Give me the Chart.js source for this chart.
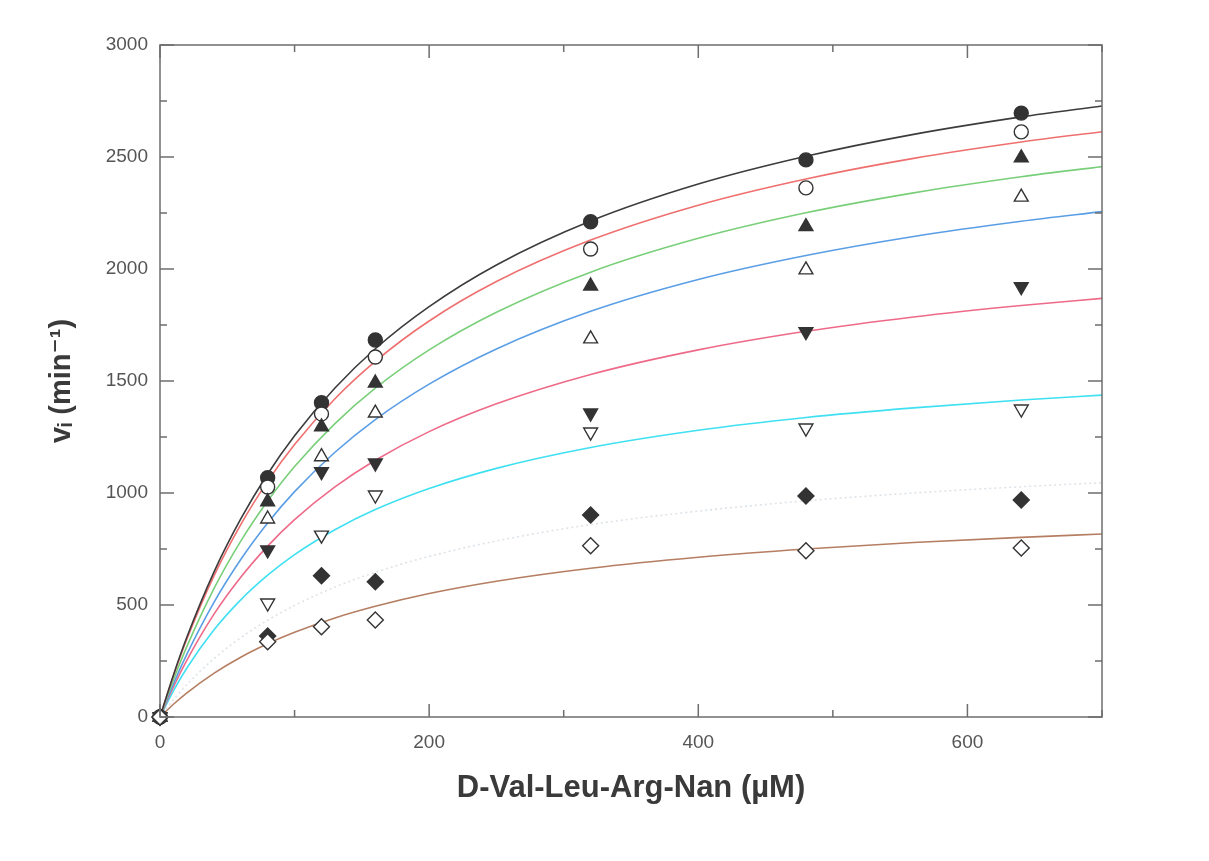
<!DOCTYPE html>
<html>
<head>
<meta charset="utf-8">
<script src="https://cdn.jsdelivr.net/npm/chart.js@4.4.0/dist/chart.umd.min.js"></script>
<style>
  html, body { margin: 0; padding: 0; background: #fff; }
  #wrap { width: 1209px; height: 861px; }
</style>
</head>
<body>
<div id="wrap"><canvas id="myChart" width="1209" height="861"></canvas></div>
<script>
// substrate concentrations (uM)
const substrate = [0, 80, 120, 160, 320, 480, 640];

// measured initial rates, one list per inhibitor level
const filledCircle   = [0, 1068, 1403, 1683, 2211, 2487, 2696];
const openCircle     = [0, 1027, 1353, 1607, 2089, 2362, 2612];
const filledUp       = [0, 961, 1295, 1491, 1924, 2189, 2496];
const openUp         = [0, 884, 1162, 1357, 1688, 1996, 2321];
const filledDown     = [0, 746, 1095, 1134, 1357, 1720, 1921];
const openDown       = [0, 509, 812, 991, 1272, 1290, 1375];
const filledDiamond  = [0, 362, 631, 604, 902, 987, 969];
const openDiamond    = [0, 336, 403, 433, 765, 742, 754];

// fitted curves
const curveX      = [0, 10, 20, 40, 60, 80, 100, 130, 160, 200, 250, 320, 400, 480, 560, 640, 700];
const curveBlack  = [0, 188, 357, 646, 884, 1085, 1256, 1469, 1644, 1832, 2018, 2214, 2379, 2503, 2601, 2679, 2728];
const curveRed    = [0, 184, 348, 629, 859, 1052, 1216, 1421, 1588, 1768, 1944, 2129, 2285, 2402, 2494, 2567, 2613];
const curveGreen  = [0, 166, 315, 572, 785, 964, 1118, 1310, 1468, 1639, 1807, 1986, 2137, 2251, 2340, 2412, 2457];
const curveBlue   = [0, 148, 281, 511, 703, 866, 1006, 1182, 1328, 1486, 1643, 1811, 1953, 2060, 2145, 2213, 2256];
const curvePink   = [0, 134, 254, 458, 624, 763, 881, 1027, 1146, 1274, 1398, 1529, 1639, 1722, 1786, 1837, 1869];
const curveCyan   = [0, 117, 219, 388, 523, 633, 725, 836, 926, 1020, 1110, 1203, 1280, 1337, 1380, 1415, 1437];
const curveFaint  = [0, 77, 145, 260, 354, 432, 498, 580, 646, 717, 786, 859, 919, 965, 1000, 1028, 1046];
const curveBrown  = [0, 57, 108, 195, 267, 327, 378, 442, 494, 551, 606, 664, 713, 750, 779, 802, 817];

const xTicks = [0, 200, 400, 600];
const yTicks = [0, 500, 1000, 1500, 2000, 2500, 3000];

const axisColor = '#6e6e6e';
const markColor = '#333333';

const toPts = (xs, ys) => xs.map((x, i) => ({ x: x, y: ys[i] }));

const curve = (ys, color, dash) => ({
    data: toPts(curveX, ys),
    showLine: true,
    borderColor: color,
    borderWidth: 1.6,
    borderDash: dash || [],
    pointRadius: 0,
    cubicInterpolationMode: 'monotone',
    order: 20
});

const marks = (ys, style, filled, rot, ord) => ({
    data: toPts(substrate, ys),
    showLine: false,
    pointStyle: style,
    rotation: rot || 0,
    pointRadius: style === 'circle' ? 7 : 8,
    pointBackgroundColor: filled ? markColor : '#ffffff',
    pointBorderColor: markColor,
    pointBorderWidth: 1.4,
    clip: false,
    order: ord
});

// inward ticks on all four sides + frame
const frameTicks = {
    id: 'frameTicks',
    afterDatasetsDraw(chart) {
        const ctx = chart.ctx;
        const a = chart.chartArea;
        const xs = chart.scales.x, ys = chart.scales.y;
        ctx.save();
        ctx.strokeStyle = axisColor;
        ctx.lineWidth = 1.5;
        ctx.strokeRect(a.left, a.top, a.right - a.left, a.bottom - a.top);
        ys.ticks.forEach(t => {
            const py = ys.getPixelForValue(t.value);
            const len = t.value % 500 === 0 ? 14 : 7;
            ctx.beginPath();
            ctx.moveTo(a.left, py); ctx.lineTo(a.left + len, py);
            ctx.moveTo(a.right, py); ctx.lineTo(a.right - len, py);
            ctx.stroke();
        });
        xs.ticks.forEach(t => {
            const px = xs.getPixelForValue(t.value);
            const len = t.value % 200 === 0 ? 13 : 7;
            ctx.beginPath();
            ctx.moveTo(px, a.bottom); ctx.lineTo(px, a.bottom - len);
            ctx.moveTo(px, a.top); ctx.lineTo(px, a.top + len);
            ctx.stroke();
        });
        ctx.restore();
    }
};

new Chart(document.getElementById('myChart'), {
    type: 'scatter',
    data: {
        datasets: [
            curve(curveBlack, '#3c3c3c'),
            curve(curveRed, '#ef6f6f'),
            curve(curveGreen, '#79cf79'),
            curve(curveBlue, '#5a9ee6'),
            curve(curvePink, '#ee6a88'),
            curve(curveCyan, '#3fe0f2'),
            curve(curveFaint, '#dde3e8', [2, 3]),
            curve(curveBrown, '#b57e62'),
            marks(filledCircle, 'circle', true, 0, 8),
            marks(openCircle, 'circle', false, 0, 7),
            marks(filledUp, 'triangle', true, 0, 6),
            marks(openUp, 'triangle', false, 0, 5),
            marks(filledDown, 'triangle', true, 180, 4),
            marks(openDown, 'triangle', false, 180, 3),
            marks(filledDiamond, 'rectRot', true, 0, 2),
            marks(openDiamond, 'rectRot', false, 0, 1)
        ]
    },
    options: {
        responsive: false,
        animation: false,
        events: [],
        layout: { padding: { left: 0, right: 107, top: 45, bottom: 50 } },
        plugins: { legend: { display: false }, tooltip: { enabled: false } },
        scales: {
            x: {
                type: 'linear',
                min: 0,
                max: 700,
                grid: { display: false, drawTicks: false },
                border: { display: false },
                ticks: {
                    stepSize: 100,
                    padding: 14,
                    color: '#555',
                    font: { family: 'Liberation Sans, Arial, sans-serif', size: 19 },
                    callback: v => xTicks.includes(v) ? String(v) : ''
                },
                title: {
                    display: true,
                    text: 'D-Val-Leu-Arg-Nan (\u00b5M)',
                    color: '#3a3a3a',
                    font: { family: 'Liberation Sans, Arial, sans-serif', size: 31, weight: 'bold' },
                    padding: { top: 4, bottom: 4 }
                },
                afterFit: s => { s.height = 94; }
            },
            y: {
                type: 'linear',
                min: 0,
                max: 3000,
                grid: { display: false, drawTicks: false },
                border: { display: false },
                ticks: {
                    stepSize: 250,
                    padding: 12,
                    color: '#555',
                    font: { family: 'Liberation Sans, Arial, sans-serif', size: 19 },
                    callback: v => yTicks.includes(v) ? String(v) : ''
                },
                title: {
                    display: true,
                    text: 'v\u1d62 (min\u207b\u00b9)',
                    color: '#3a3a3a',
                    font: { family: 'Liberation Sans, DejaVu Sans, Arial, sans-serif', size: 29, weight: 'bold' },
                    padding: { top: 45 }
                },
                afterFit: s => { s.width = 160; }
            }
        }
    },
    plugins: [frameTicks]
});
</script>
</body>
</html>
